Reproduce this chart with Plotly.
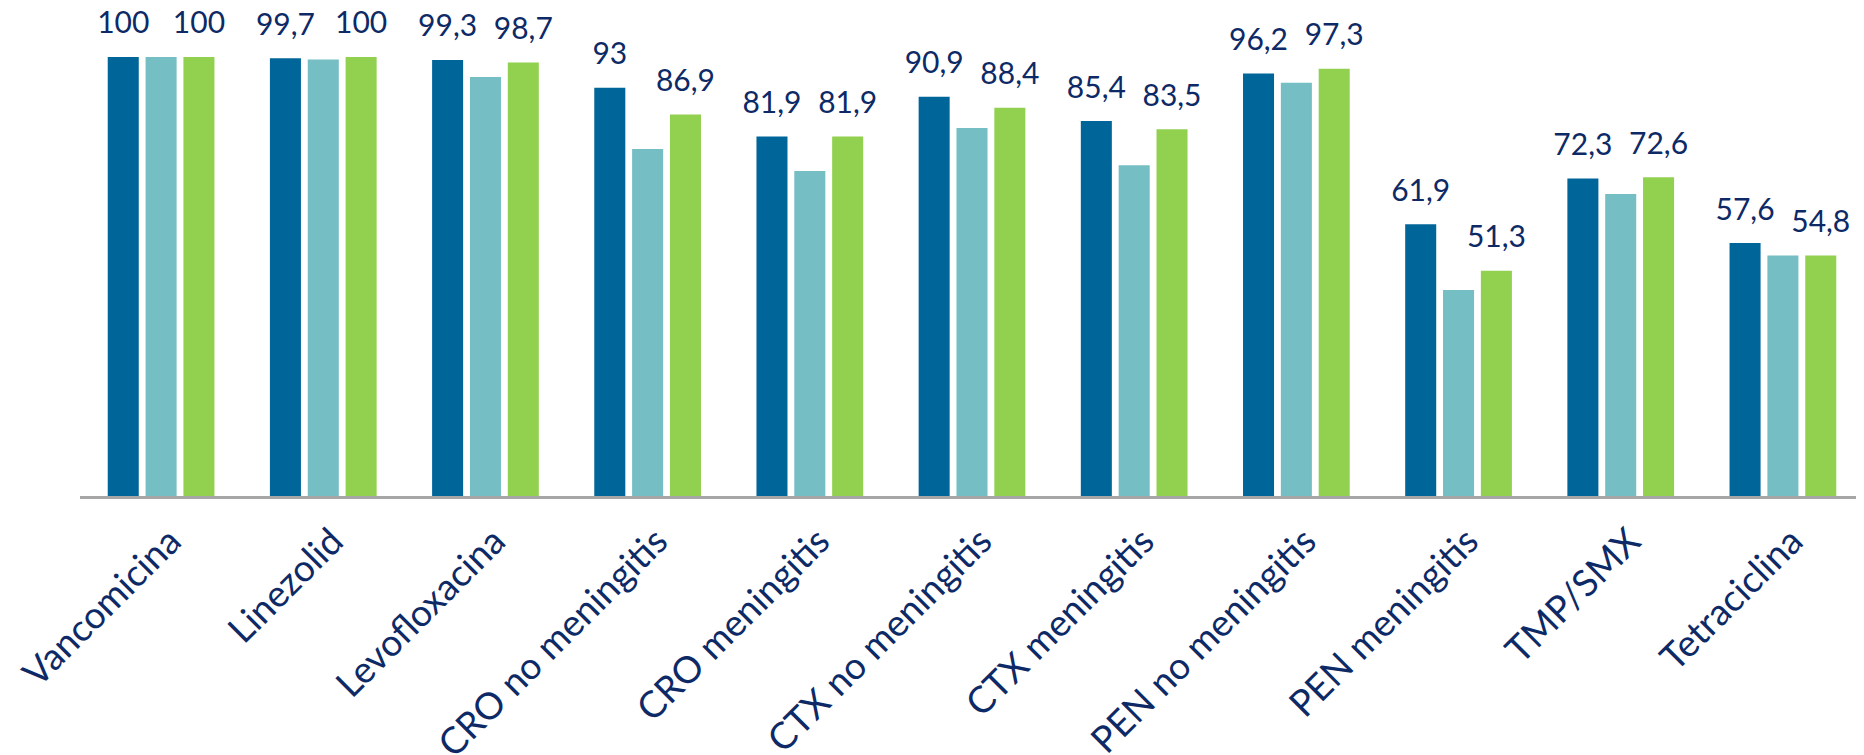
import plotly.graph_objects as go

categories = ["Vancomicina", "Linezolid", "Levofloxacina", "CRO no meningitis",
              "CRO meningitis", "CTX no meningitis", "CTX meningitis",
              "PEN no meningitis", "PEN meningitis", "TMP/SMX", "Tetraciclina"]
serie_1 = [100, 99.7, 99.3, 93, 81.9, 90.9, 85.4, 96.2, 61.9, 72.3, 57.6]
serie_2 = [100, 99.4, 95.4, 79.0, 74.0, 83.8, 75.3, 94.1, 46.9, 68.8, 54.8]
serie_3 = [100, 100, 98.7, 86.9, 81.9, 88.4, 83.5, 97.3, 51.3, 72.6, 54.8]

colors = ["#006699", "#74BEC4", "#92D050"]
text_color = "#0D2A66"
FONT = "Lato, 'Open Sans', sans-serif"

def fmt(v):
    return f"{v:g}".replace(".", ",")

fig = go.Figure()
series = [serie_1, serie_2, serie_3]
show_labels = [True, False, True]
for vals, col in zip(series, colors):
    fig.add_trace(go.Bar(x=categories, y=vals, marker=dict(color=col, line=dict(width=0)),
                         hoverinfo="x+y", showlegend=False))
for vals, show in zip(series, show_labels):
    fig.add_trace(go.Scatter(
        x=categories, y=vals, mode="markers+text",
        text=[fmt(v) for v in vals] if show else None,
        textposition="top center",
        textfont=dict(family=FONT, size=30, color=text_color),
        marker=dict(size=24, opacity=0),
        hoverinfo="skip", showlegend=False, cliponaxis=False))

fig.update_layout(
    width=1864, height=755,
    barmode="group", bargap=0.30, bargroupgap=0.18,
    scattermode="group", scattergap=0.30,
    plot_bgcolor="white", paper_bgcolor="white",
    margin=dict(l=72, r=8, t=5, b=267, autoexpand=False),
    font=dict(family=FONT, color=text_color),
)
fig.update_xaxes(showline=True, linecolor="#A6A6A6", linewidth=2.5, ticks="",
                 tickangle=-45, tickfont=dict(family=FONT, size=37, color=text_color),
                 ticklabelstandoff=6, ticklabelshift=9, showgrid=False, automargin=False)
fig.update_yaxes(range=[0, 110], visible=False, showgrid=False)

fig.write_html("out.html")
